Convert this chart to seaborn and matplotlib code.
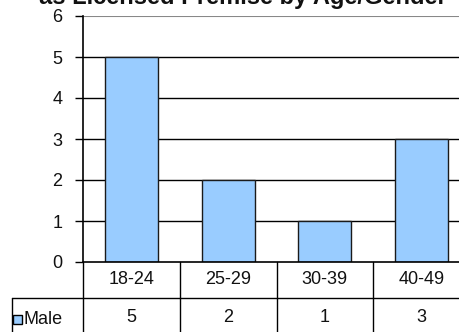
import matplotlib
matplotlib.use("Agg")
import matplotlib.pyplot as plt
import matplotlib.transforms as mtransforms
from matplotlib.patches import Rectangle
import seaborn as sns
import pandas as pd

# Data
categories = ["18-24", "25-29", "30-39", "40-49"]
male = [5, 2, 1, 3]
series_name = "Male"
title = "as Licensed Premise by Age/Gender"

BAR_COLOR = "#99CCFF"
FONT = ["Liberation Sans", "DejaVu Sans"]

sns.set_theme(style="white")
plt.rcParams["font.family"] = FONT

W, H = 460, 332
fig = plt.figure(figsize=(W / 100, H / 100), dpi=100)

# Plot area in pixel terms (left, bottom, right, top), extends past right edge
px_l, px_r, px_top, px_bot = 83, 470, 16, 262
ax = fig.add_axes([px_l / W, (H - px_bot) / H, (px_r - px_l) / W, (px_bot - px_top) / H])

df = pd.DataFrame({"age": categories, "count": male})
sns.barplot(data=df, x="age", y="count", color=BAR_COLOR, saturation=1,
            width=0.55, edgecolor="#1a1a1a", linewidth=1.0, ax=ax, zorder=3)

ax.set_xlim(-0.5, len(categories) - 0.5)
ax.set_ylim(0, 6)
ax.set_yticks(range(0, 7))
ax.set_yticklabels([str(v) for v in range(0, 7)], fontsize=13, color="#111111")
ax.tick_params(axis="y", length=6, width=1, color="black", pad=9, left=True)
ax.set_xticks([])
ax.set_xlabel("")
ax.set_ylabel("")

# Horizontal gridlines
for v in range(1, 6):
    ax.axhline(v, color="black", linewidth=1, zorder=1)
ax.axhline(6, color="#888888", linewidth=1.5, zorder=1)

for s in ["top", "right", "bottom"]:
    ax.spines[s].set_visible(False)
ax.spines["left"].set_color("black")
ax.spines["left"].set_linewidth(1.2)
ax.axhline(0, color="black", linewidth=1.2, zorder=4, clip_on=False)

# Data table below the plot
trans = mtransforms.blended_transform_factory(ax.transData, fig.transFigure)
def fy(py):
    return (H - py) / H

row1_top, row1_bot, row2_bot = 262, 298, 340
n = len(categories)
line_kw = dict(color="black", linewidth=1, transform=trans, clip_on=False)

# vertical separators
for b in range(n + 1):
    xb = b - 0.5
    ax.plot([xb, xb], [fy(row1_top), fy(row2_bot)], **line_kw)

# legend cell left edge (x=12 px)
x_leg_left = -0.5 - (px_l - 12) / ((px_r - px_l) / n)
ax.plot([x_leg_left, n - 0.5], [fy(row1_bot), fy(row1_bot)], **line_kw)
ax.plot([x_leg_left, x_leg_left], [fy(row1_bot), fy(row2_bot)], **line_kw)

for i, (cat, val) in enumerate(zip(categories, male)):
    ax.text(i, fy(279), cat, ha="center", va="center", fontsize=13,
            color="#111111", transform=trans, clip_on=False)
    ax.text(i, fy(318), str(val), ha="center", va="center", fontsize=13,
            color="#111111", transform=trans, clip_on=False)

# legend key and series name
fig.patches.append(Rectangle((13 / W, fy(324)), 9 / W, 9 / H, transform=fig.transFigure,
                             facecolor=BAR_COLOR, edgecolor="black", linewidth=1))
fig.text(24 / W, fy(319), series_name, ha="left", va="center", fontsize=13,
         color="#111111")

# Chart title (upper lines fall outside the canvas)
fig.text(243 / W, fy(4), title, ha="center", va="baseline", fontsize=17,
         fontweight="bold", color="#111111")

fig.savefig("out.png", dpi=100)
